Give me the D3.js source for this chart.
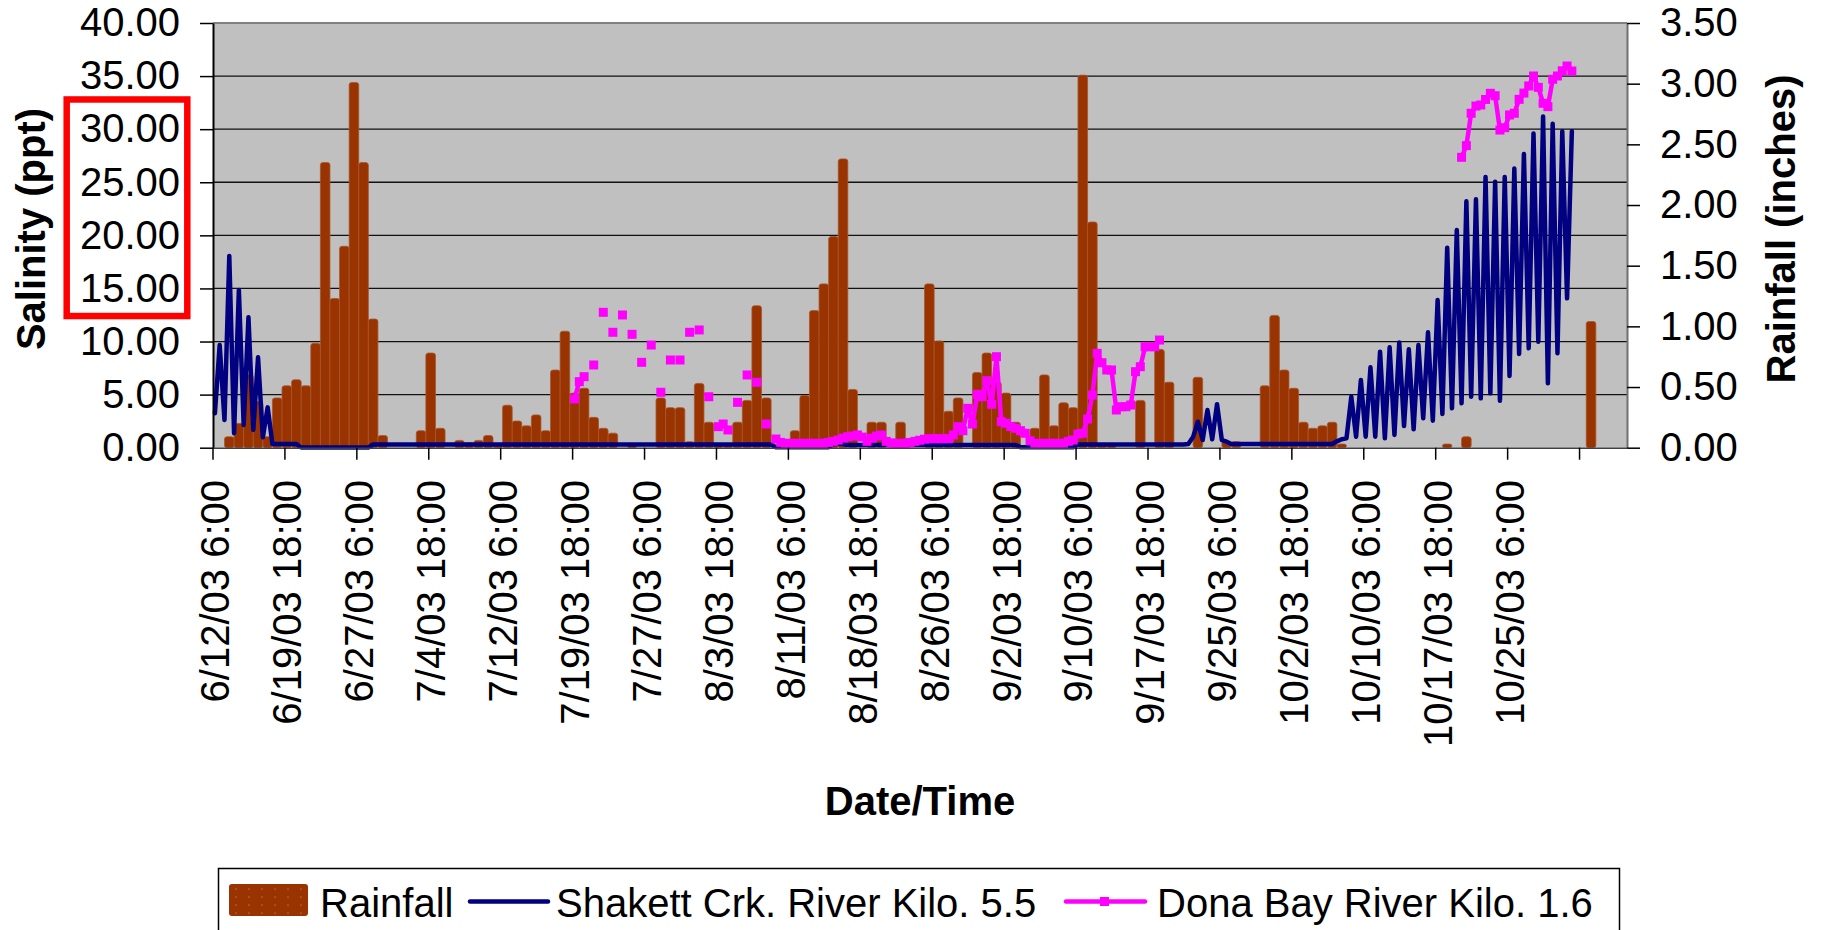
<!DOCTYPE html>
<html>
<head>
<meta charset="utf-8">
<script src="https://cdnjs.cloudflare.com/ajax/libs/d3/7.8.5/d3.min.js"></script>
<style>
  html, body { margin: 0; padding: 0; background: #fff; }
  svg { display: block; font-family: "Liberation Sans", Arial, sans-serif; }
</style>
</head>
<body>
<svg id="chart" width="1821" height="930"></svg>
<script>
// daily rainfall (inches), one bar per day, first day starts 6/12/03 6:00
const rainStart = '6/12/03 6:00'
const rainfall = [
  0, 0.09, 0.2, 0.6, 0.38, 0.09, 0.41, 0.51, 0.56, 0.51, 0.86, 2.35,
  1.23, 1.66, 3.01, 2.35, 1.06, 0.10, 0, 0, 0, 0.14, 0.78, 0.16,
  0, 0.06, 0.04, 0.06, 0.10, 0.03, 0.35, 0.22, 0.18, 0.27, 0.14, 0.64,
  0.96, 0.45, 0.49, 0.25, 0.16, 0.12, 0, 0.03, 0, 0, 0.41, 0.33,
  0.33, 0.05, 0.53, 0.21, 0.03, 0.03, 0.21, 0.39, 1.17, 0.41, 0, 0,
  0.14, 0.43, 1.13, 1.35, 1.74, 2.38, 0.48, 0, 0.21, 0.21, 0, 0.21,
  0, 0, 1.35, 0.88, 0.30, 0.41, 0, 0.62, 0.78, 0.54, 0.45, 0.21,
  0, 0.16, 0.60, 0.18, 0.37, 0.33, 3.07, 1.86, 0.03, 0.03, 0, 0,
  0.39, 0, 0.81, 0.54, 0, 0, 0.58, 0, 0, 0.05, 0.05, 0,
  0, 0.51, 1.09, 0.64, 0.49, 0.21, 0.16, 0.18, 0.21, 0.03, 0, 0,
  0, 0, 0, 0, 0, 0, 0, 0, 0.03, 0, 0.09, 0,
  0, 0, 0, 0, 0, 0, 0, 0, 0, 0, 0, 1.04
]

// salinity (ppt), one reading every 12 hours
const salStart = '6/12/03 6:00'
const shakett = [
  3.24, 9.67, 2.61, 18.06, 1.36, 14.85, 2.14, 12.28, 1.67, 8.51, 0.98, 3.8,
  0.35, 0.35, 0.35, 0.35, 0.35, 0.35,
  0.02, 0.02, 0.02, 0.02, 0.02, 0.02, 0.02, 0.02, 0.02, 0.02, 0.02, 0.02, 0.02, 0.02, 0.02,
  0.3, 0.3, 0.3, 0.3, 0.3, 0.3, 0.3, 0.3, 0.3, 0.3, 0.3, 0.3,
  0.3, 0.3, 0.3, 0.3, 0.3, 0.3, 0.3, 0.3, 0.3, 0.3, 0.3, 0.3,
  0.3, 0.3, 0.3, 0.3, 0.3, 0.3, 0.3, 0.3, 0.3, 0.3, 0.3, 0.3,
  0.3, 0.3, 0.3, 0.3, 0.3, 0.3, 0.3, 0.3, 0.3, 0.3, 0.3, 0.3,
  0.3, 0.3, 0.3, 0.3, 0.3, 0.3, 0.3, 0.3, 0.3, 0.3, 0.3, 0.3,
  0.3, 0.3, 0.3, 0.3, 0.3, 0.3, 0.3, 0.3, 0.3, 0.3, 0.3, 0.3,
  0.3, 0.3, 0.3, 0.3, 0.3, 0.3, 0.3, 0.3, 0.3, 0.3, 0.3, 0.3,
  0.05, 0.05, 0.05, 0.05, 0.05, 0.05, 0.05, 0.05, 0.05, 0.05, 0.05, 0.05,
  0.35, 0.35, 0.35,
  0.25, 0.25, 0.25, 0.25, 0.25, 0.25, 0.25, 0.25, 0.25, 0.25, 0.25, 0.25,
  0.25, 0.25, 0.25, 0.25, 0.25, 0.25, 0.25, 0.25, 0.25, 0.25, 0.25, 0.25,
  0.25, 0.25, 0.25, 0.25, 0.25, 0.25, 0.25, 0.25, 0.25, 0.25, 0.25, 0.25,
  0.05, 0.05, 0.05, 0.05, 0.05, 0.05, 0.05, 0.05, 0.05, 0.05, 0.05, 0.05,
  0.3, 0.3, 0.3, 0.3, 0.3, 0.3, 0.3, 0.3, 0.3, 0.3, 0.3, 0.3,
  0.3, 0.3, 0.3, 0.3, 0.3, 0.3, 0.3, 0.3, 0.3, 0.3, 0.3,
  0.35, 1.0, 2.45, 0.72, 3.55, 0.79, 4.1, 0.72, 0.57, 0.35,
  0.35, 0.35, 0.35, 0.35, 0.35, 0.35, 0.35, 0.35, 0.35, 0.35, 0.35, 0.35,
  0.35, 0.35, 0.35, 0.35, 0.35, 0.35, 0.35, 0.35, 0.35,
  0.6, 0.8, 0.88,
  4.8, 1.04, 6.38, 1.04, 7.57, 1.04, 9.04, 0.88, 9.45, 1.2, 9.9, 2.04,
  9.27, 1.73, 9.67, 2.77, 10.87, 2.54, 13.9, 3.17, 18.84, 3.71, 20.5, 4.18,
  23.2, 4.8, 23.4, 4.65, 25.5, 5.12, 25.05, 4.43, 25.5, 6.75, 26.3, 8.83,
  27.66, 9.36, 29.6, 9.98, 31.2, 6.07, 30.5, 8.9, 29.8, 14.07, 29.8
]

// Dona Bay, same 12 hour steps, null = no reading
const donaSummerStart = '7/19/03 18:00'
const donaSummer = [
  4.59, 6.22, 6.69,
  null, 7.79, null, 12.75, null, 10.87, null, 12.5, null, 10.68, null, 8.04,
  null, 9.67, null, 5.22, null, 8.26, null, 8.26, null, 10.87, null, 11.09,
  null, 4.8, null,
  1.98, 2.23, 1.67,
  null, 4.27, null, 6.85, null, 6.16, null, 2.23, null,
  0.82, 0.5, 0.41, 0.41, 0.41, 0.41, 0.41, 0.41, 0.41, 0.41, 0.41,
  0.5, 0.6, 0.72, 0.9, 1.04, 1.1, 1.2, 1.0, 0.6, 0.9, 1.1, 1.2, 0.6, 0.45,
  0.41, 0.41, 0.41, 0.5, 0.6, 0.7, 0.8, 0.85, 0.85, 0.85, 0.85, 0.85,
  1.2, 1.98, 1.6, 3.71, 2.23, 5.03, 4.8, 6.31, 4.09, 8.57, 2.45, 2.3,
  2.0, 1.83, 1.6, 1.36, 0.66,
  0.41, 0.41, 0.41, 0.41, 0.41, 0.41, 0.41,
  0.6, 0.72, 1.29, 1.36, 2.7, 4.96, 8.89, 8.0, 7.32, 7.32, 3.55, 3.86,
  3.86, 4.02, 7.16, 7.63, 9.51, 9.51, 9.51, 10.14
]
const donaFallStart = '10/20/03 6:00'
const donaFall = [
  27.35, 28.45, 31.5, 32.18, 32.28, 32.8, 33.38, 33.15, 29.92, 30.14, 31.34, 31.5,
  32.81, 33.4, 34.07, 35.01, 33.94, 32.44, 32.12, 34.7, 35.01, 35.5, 35.95, 35.48
]

const xDomain = ['6/12/03 0:00', '11/6/03 12:00']
const xTickLabels = [
  '6/12/03 6:00', '6/19/03 18:00', '6/27/03 6:00', '7/4/03 18:00', '7/12/03 6:00',
  '7/19/03 18:00', '7/27/03 6:00', '8/3/03 18:00', '8/11/03 6:00', '8/18/03 18:00',
  '8/26/03 6:00', '9/2/03 18:00', '9/10/03 6:00', '9/17/03 18:00', '9/25/03 6:00',
  '10/2/03 18:00', '10/10/03 6:00', '10/17/03 18:00', '10/25/03 6:00'
]
const xTickLast = '11/1/03 18:00'
const salTicks = [0, 5, 10, 15, 20, 25, 30, 35, 40]
const rainTicks = [0, 0.5, 1, 1.5, 2, 2.5, 3, 3.5]
// salinity band boxed in red on the left axis
const highlightBand = [15, 30]
const legendNames = ['Rainfall', 'Shakett Crk. River Kilo. 5.5', 'Dona Bay River Kilo. 1.6']

const parse = d3.utcParse('%m/%d/%y %H:%M')
const fmt = d3.utcFormat('%-m/%-d/%y %-H:%M')
const plot = { left: 213, right: 1627, top: 23, bottom: 447.7 }
const C = { rain: '#993300', shakett: '#000080', dona: '#ff00ff', bg: '#c0c0c0' }

const svg = d3.select('#chart')

const x = d3.scaleTime()
  .domain(xDomain.map(parse))
  .range([212.5, plot.right])
const yL = d3.scaleLinear().domain([0, 40]).range([plot.bottom, plot.top])
const yR = d3.scaleLinear().domain([0, 3.5]).range([plot.bottom, plot.top])

function series (start, values, stepHours) {
  const t0 = parse(start)
  return values.map((v, i) => ({ t: d3.utcHour.offset(t0, stepHours * i), v }))
}

const rainData = series(rainStart, rainfall, 24)
const shakettData = series(salStart, shakett, 12)
const donaData = series(donaSummerStart, donaSummer, 12)
  .concat([{ t: null, v: null }])
  .concat(series(donaFallStart, donaFall, 12))

// plot background
svg.append('rect')
  .attr('x', plot.left).attr('y', plot.top)
  .attr('width', plot.right - plot.left).attr('height', plot.bottom - plot.top)
  .attr('fill', C.bg)

// gridlines
svg.append('g')
  .selectAll('line')
  .data(salTicks.filter(d => d > 0 && d < 40))
  .enter().append('line')
  .attr('x1', plot.left).attr('x2', plot.right)
  .attr('y1', d => yL(d)).attr('y2', d => yL(d))
  .attr('stroke', '#111').attr('stroke-width', 1.3)

// rainfall bars
svg.append('g')
  .selectAll('rect')
  .data(rainData.filter(d => d.v > 0))
  .enter().append('rect')
  .attr('x', d => x(d.t))
  .attr('width', d => x(d3.utcDay.offset(d.t, 1)) - x(d.t))
  .attr('y', d => yR(d.v))
  .attr('height', d => yR(0) - yR(d.v))
  .attr('rx', 2.5)
  .attr('fill', C.rain)
  .attr('stroke', '#a8552e')
  .attr('stroke-width', 0.8)

// Shakett line
const line = d3.line()
  .defined(d => d.v != null)
  .x(d => x(d.t))
  .y(d => yL(d.v))

svg.append('path')
  .datum(shakettData)
  .attr('d', line)
  .attr('fill', 'none')
  .attr('stroke', C.shakett)
  .attr('stroke-width', 4.5)
  .attr('stroke-linejoin', 'round')
  .attr('stroke-linecap', 'round')

// Dona Bay line and markers
svg.append('path')
  .datum(donaData)
  .attr('d', line)
  .attr('fill', 'none')
  .attr('stroke', C.dona)
  .attr('stroke-width', 4.5)
  .attr('stroke-linejoin', 'round')

svg.append('g')
  .selectAll('rect')
  .data(donaData.filter(d => d.v != null))
  .enter().append('rect')
  .attr('x', d => x(d.t) - 4.5)
  .attr('y', d => yL(d.v) - 4.5)
  .attr('width', 9).attr('height', 9)
  .attr('fill', C.dona)

// borders
svg.append('line')
  .attr('x1', plot.left).attr('x2', plot.right)
  .attr('y1', plot.top).attr('y2', plot.top)
  .attr('stroke', '#808080').attr('stroke-width', 2)

function styleAxis (g) {
  g.selectAll('text')
    .attr('font-family', '"Liberation Sans", Arial, sans-serif')
    .attr('font-size', 40)
    .attr('fill', '#000')
  g.selectAll('.tick line').attr('stroke', '#000').attr('stroke-width', 1.5)
}

const axisL = svg.append('g')
  .attr('transform', `translate(${plot.left},0)`)
  .call(d3.axisLeft(yL).tickValues(salTicks).tickFormat(d3.format('.2f'))
    .tickSize(13).tickSizeOuter(0).tickPadding(20))
axisL.select('.domain').attr('stroke', '#000').attr('stroke-width', 2)
axisL.call(styleAxis)

const axisR = svg.append('g')
  .attr('transform', `translate(${plot.right},0)`)
  .call(d3.axisRight(yR).tickValues(rainTicks).tickFormat(d3.format('.2f'))
    .tickSize(13).tickSizeOuter(0).tickPadding(20))
axisR.select('.domain').attr('stroke', '#707070').attr('stroke-width', 2)
axisR.call(styleAxis)

// x axis: labels at category centres, tick marks at category edges
const tickDates = xTickLabels.map(parse).concat([parse(xTickLast)])
const halfCat = x(d3.utcHour.offset(tickDates[0], 6)) - x(tickDates[0])
const axisB = svg.append('g')
  .attr('transform', `translate(0,${plot.bottom})`)
  .call(d3.axisBottom(x).tickValues(tickDates)
    .tickFormat((d, i) => i < xTickLabels.length ? fmt(d) : '')
    .tickSize(12).tickSizeOuter(0))
axisB.select('.domain').attr('stroke', '#404040').attr('stroke-width', 1.5)
axisB.call(styleAxis)
axisB.selectAll('.tick line').attr('transform', `translate(${-halfCat},0)`)
axisB.selectAll('.tick text')
  .attr('transform', 'rotate(-90)')
  .attr('x', -(480 - plot.bottom))
  .attr('y', 0)
  .attr('dy', '0.35em')
  .attr('text-anchor', 'end')

// red box around the 15.00 - 30.00 labels
svg.append('rect')
  .attr('x', 66.7)
  .attr('y', yL(highlightBand[1]) - 29.7)
  .attr('width', 120.6)
  .attr('height', yL(highlightBand[0]) - yL(highlightBand[1]) + 57.3)
  .attr('fill', 'none')
  .attr('stroke', '#ff0000')
  .attr('stroke-width', 6.5)

// axis titles
svg.append('text')
  .attr('transform', 'translate(45,229) rotate(-90)')
  .attr('text-anchor', 'middle')
  .attr('font-size', 40).attr('font-weight', 'bold')
  .text('Salinity (ppt)')

svg.append('text')
  .attr('transform', 'translate(1795,229) rotate(-90)')
  .attr('text-anchor', 'middle')
  .attr('font-size', 40).attr('font-weight', 'bold')
  .text('Rainfall (inches)')

svg.append('text')
  .attr('x', (plot.left + plot.right) / 2).attr('y', 815)
  .attr('text-anchor', 'middle')
  .attr('font-size', 40).attr('font-weight', 'bold')
  .text('Date/Time')

// legend
const defs = svg.append('defs')
const pat = defs.append('pattern')
  .attr('id', 'dots').attr('patternUnits', 'userSpaceOnUse')
  .attr('x', 229).attr('y', 884)
  .attr('width', 13).attr('height', 8)
pat.append('rect').attr('width', 13).attr('height', 8).attr('fill', C.rain)
pat.append('circle').attr('cx', 7).attr('cy', 5).attr('r', 0.6)
  .attr('fill', '#d9a88c')

const legend = svg.append('g')
legend.append('rect')
  .attr('x', 218.5).attr('y', 868.5)
  .attr('width', 1401).attr('height', 80)
  .attr('fill', '#fff').attr('stroke', '#000').attr('stroke-width', 1.5)

legend.append('rect')
  .attr('x', 229).attr('y', 884).attr('width', 79).attr('height', 32).attr('rx', 3)
  .attr('fill', 'url(#dots)')

legend.append('line')
  .attr('x1', 470).attr('x2', 548).attr('y1', 901.5).attr('y2', 901.5)
  .attr('stroke', C.shakett).attr('stroke-width', 4.5).attr('stroke-linecap', 'round')

legend.append('line')
  .attr('x1', 1066).attr('x2', 1145).attr('y1', 901.5).attr('y2', 901.5)
  .attr('stroke', C.dona).attr('stroke-width', 4.5).attr('stroke-linecap', 'round')
legend.append('rect')
  .attr('x', 1100).attr('y', 897).attr('width', 9).attr('height', 9)
  .attr('fill', C.dona)

legend.selectAll('text.item')
  .data(legendNames)
  .enter().append('text')
  .attr('class', 'item')
  .attr('x', (d, i) => [320, 556, 1157][i])
  .attr('y', 917)
  .attr('font-size', 40)
  .text(d => d)
</script>
</body>
</html>
